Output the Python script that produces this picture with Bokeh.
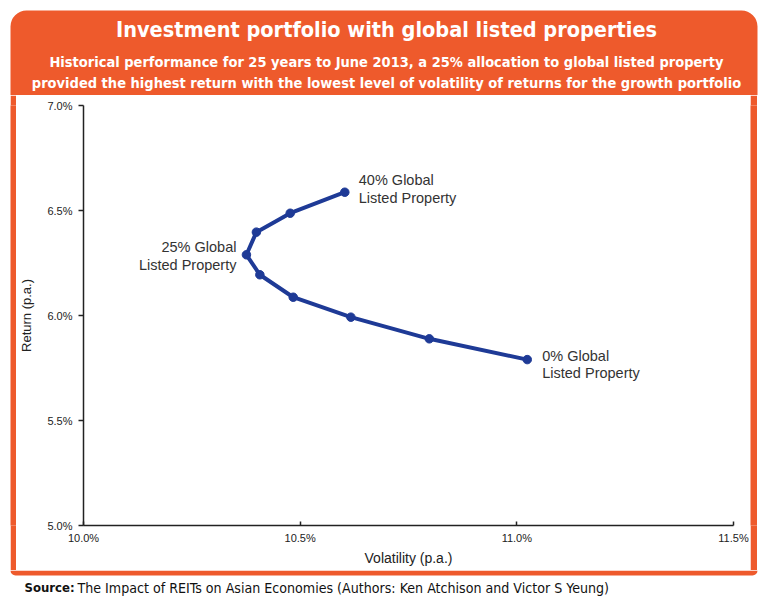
from bokeh.plotting import figure
from bokeh.layouts import column, row
from bokeh.models import Range1d, FixedTicker, PrintfTickFormatter, ColumnDataSource, Spacer
from bokeh.core.properties import value
from bokeh.embed import file_html
from bokeh.resources import INLINE

# ---------------- data ----------------
allocation = [0, 5, 10, 15, 20, 25, 30, 35, 40]
volatility = [11.024, 10.798, 10.617, 10.484, 10.407, 10.376, 10.399, 10.477, 10.603]
returns = [5.790, 5.889, 5.992, 6.087, 6.194, 6.289, 6.397, 6.487, 6.587]
x_ticks = [10.0, 10.5, 11.0, 11.5]
y_ticks = [5.0, 5.5, 6.0, 6.5, 7.0]
note_index = [0, 5, 8]
note_texts = ["0% Global\nListed Property", "25% Global\nListed Property", "40% Global\nListed Property"]

title = "Investment portfolio with global listed properties"
subtitle_1 = "Historical performance for 25 years to June 2013, a 25% allocation to global listed property"
subtitle_2 = "provided the highest return with the lowest level of volatility of returns for the growth portfolio"
source_bold = "Source:"
source_text = "The Impact of REITs on Asian Economies (Authors: Ken Atchison and Victor S Yeung)"
x_label = "Volatility (p.a.)"
y_label = "Return (p.a.)"

# ---------------- style ----------------
W, H = 770, 600
HEADER_H = 95          # header band height
BODY_H = 475           # white body (95..570)
FOOT_H = H - HEADER_H - BODY_H
ORANGE = "#EE5A2C"
BLUE = "#1E3A96"
COND = "'DejaVu Sans Condensed', 'Roboto Condensed', 'Liberation Sans Narrow', Roboto"
SANS = "Liberation Sans"


def canvas_fig(w, h, fill="white"):
    f = figure(width=w, height=h, x_range=Range1d(0, w), y_range=Range1d(0, h),
               output_backend="svg", toolbar_location=None,
               x_axis_type=None, y_axis_type=None, min_border=0)
    f.outline_line_color = None
    f.grid.visible = False
    f.background_fill_color = fill
    f.border_fill_color = fill
    return f


# ---------- header ----------
hdr = canvas_fig(W, HEADER_H)
hdr.quad(left=10, right=757, top=HEADER_H - 10, bottom=0, fill_color=ORANGE, line_color=None,
         border_radius=(16, 16, 0, 0))
hdr.text(x=[386], y=[HEADER_H - 29], text=[title], text_align="center", text_baseline="middle",
         text_font=value(COND), text_font_style="bold", text_font_size="21.5px", text_color="white")
hdr.text(x=[386, 386], y=[HEADER_H - 61, HEADER_H - 82], text=[subtitle_1, subtitle_2],
         text_align="center", text_baseline="middle",
         text_font=value(COND), text_font_style="bold", text_font_size="14.5px", text_color="white")

# ---------- side strips (whole canvases filled orange) ----------
lft = canvas_fig(6, BODY_H, fill=ORANGE)
rgt = canvas_fig(7, BODY_H, fill=ORANGE)

# ---------- footer ----------
ftr = canvas_fig(W, FOOT_H)
ftr.quad(left=10, right=757, top=FOOT_H, bottom=FOOT_H - 5, fill_color=ORANGE, line_color=None,
         border_radius=(0, 0, 5, 5))
ftr.text(x=[24], y=[FOOT_H - 17], text=[source_bold], text_align="left", text_baseline="middle",
         text_font=value(COND), text_font_style="bold", text_font_size="13px", text_color="#111111")
ftr.text(x=[77], y=[FOOT_H - 17], text=[source_text], text_align="left", text_baseline="middle",
         text_font=value(COND), text_font_size="14.1px", text_color="#111111")

# ---------- chart ----------
X0 = 16                        # chart canvas spans x 16..750
CW = 750 - X0
FL, FR, FT, FB = 81 - X0, 733 - X0, 105 - HEADER_H, 525 - HEADER_H

p = figure(width=CW, height=BODY_H, x_range=Range1d(x_ticks[0], x_ticks[-1]),
           y_range=Range1d(y_ticks[0], y_ticks[-1]),
           output_backend="svg", toolbar_location=None,
           min_border_left=FL, min_border_right=CW - FR, min_border_top=FT, min_border_bottom=BODY_H - FB)
p.outline_line_color = None
p.grid.visible = False
p.background_fill_color = "white"
p.border_fill_color = "white"

for ax in (p.xaxis[0], p.yaxis[0]):
    ax.axis_line_color = "#222222"
    ax.axis_line_width = 1.5
    ax.major_tick_line_color = "#222222"
    ax.major_tick_line_width = 1.5
    ax.minor_tick_line_color = None
    ax.major_label_text_font = SANS
    ax.major_label_text_font_size = "11px"
    ax.major_label_text_color = "#222222"
    ax.axis_label_text_font = SANS
    ax.axis_label_text_font_style = "normal"
    ax.axis_label_text_color = "#222222"
    ax.formatter = PrintfTickFormatter(format="%.1f%%")

p.xaxis.axis_label_text_font_size = "14px"
p.yaxis.axis_label_text_font_size = "13px"
p.xaxis.ticker = FixedTicker(ticks=x_ticks)
p.yaxis.ticker = FixedTicker(ticks=y_ticks)
p.xaxis.major_tick_in = 4
p.xaxis.major_tick_out = 0
p.yaxis.major_tick_in = 0
p.yaxis.major_tick_out = 5
p.xaxis.major_label_standoff = 6
p.yaxis.major_label_standoff = 6
p.xaxis.axis_label = x_label
p.yaxis.axis_label = y_label
p.xaxis.axis_label_standoff = 3
p.yaxis.axis_label_standoff = 10

p.line(volatility, returns, line_width=4, line_color=BLUE)
p.scatter(volatility, returns, size=8.5, fill_color=BLUE, line_color=BLUE)

notes = ColumnDataSource(dict(
    x=[volatility[i] for i in note_index],
    y=[returns[i] for i in note_index],
    text=note_texts,
    align=["left", "right", "left"],
    dx=[15, -10, 14],
    dy=[5, 1, -3],
))
p.text(x="x", y="y", text="text", source=notes, text_align="align", x_offset="dx", y_offset="dy",
       text_baseline="middle", text_font=value(SANS), text_font_size="14.5px", text_color="#333333",
       text_line_height=1.1)

body = row(Spacer(width=10, height=BODY_H), lft, p, rgt, Spacer(width=W - 757, height=BODY_H))
layout = column(hdr, body, ftr)
open("out.html", "w").write(file_html(layout, INLINE))
